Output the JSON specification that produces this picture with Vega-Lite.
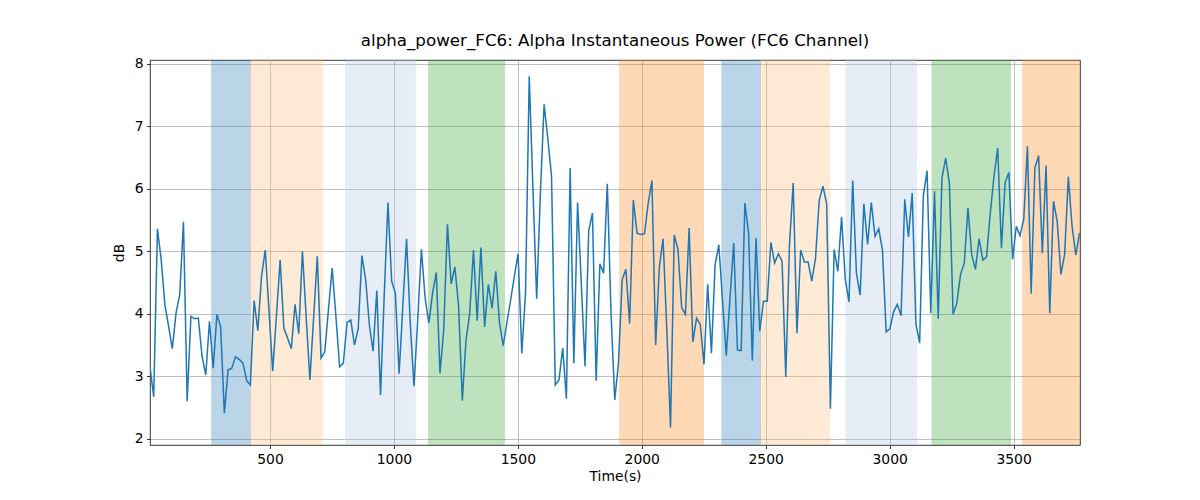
{
  "$schema": "https://vega.github.io/schema/vega-lite/v6.json",
  "description": "Alpha instantaneous power on the FC6 channel with shaded phases.",
  "width": 930,
  "height": 385,
  "autosize": "none",
  "padding": {"left": 150, "top": 60, "right": 120, "bottom": 55},
  "title": {
    "text": "alpha_power_FC6: Alpha Instantaneous Power (FC6 Channel)",
    "font": "DejaVu Sans",
    "fontSize": 16.7,
    "fontWeight": "normal",
    "color": "black",
    "offset": 7
  },
  "datasets": {
    "bands": [
      {"start": 265, "end": 421, "phase": "A"},
      {"start": 421, "end": 712, "phase": "B"},
      {"start": 805, "end": 1087, "phase": "C"},
      {"start": 1140, "end": 1446, "phase": "D"},
      {"start": 1911, "end": 2249, "phase": "E"},
      {"start": 2323, "end": 2479, "phase": "A"},
      {"start": 2479, "end": 2757, "phase": "B"},
      {"start": 2824, "end": 3108, "phase": "C"},
      {"start": 3171, "end": 3488, "phase": "D"},
      {"start": 3537, "end": 3800, "phase": "E"}
    ],
    "power": [
      {"t": 16, "v": 3.15}, {"t": 31, "v": 2.67}, {"t": 46, "v": 5.36}, {"t": 61, "v": 4.87}, {"t": 76, "v": 4.15},
      {"t": 91, "v": 3.80}, {"t": 106, "v": 3.44}, {"t": 121, "v": 4.01}, {"t": 136, "v": 4.31}, {"t": 151, "v": 5.47},
      {"t": 166, "v": 2.60}, {"t": 181, "v": 3.96}, {"t": 196, "v": 3.92}, {"t": 211, "v": 3.93}, {"t": 226, "v": 3.32},
      {"t": 241, "v": 3.02}, {"t": 256, "v": 3.88}, {"t": 271, "v": 3.13}, {"t": 286, "v": 3.99}, {"t": 301, "v": 3.79},
      {"t": 316, "v": 2.41}, {"t": 331, "v": 3.10}, {"t": 346, "v": 3.13}, {"t": 361, "v": 3.31}, {"t": 376, "v": 3.27},
      {"t": 391, "v": 3.21}, {"t": 406, "v": 2.93}, {"t": 421, "v": 2.86}, {"t": 436, "v": 4.21}, {"t": 451, "v": 3.73},
      {"t": 466, "v": 4.60}, {"t": 481, "v": 5.02}, {"t": 496, "v": 4.05}, {"t": 511, "v": 3.08}, {"t": 526, "v": 3.96},
      {"t": 541, "v": 4.86}, {"t": 556, "v": 3.77}, {"t": 571, "v": 3.61}, {"t": 586, "v": 3.44}, {"t": 601, "v": 4.15},
      {"t": 616, "v": 3.68}, {"t": 631, "v": 5.00}, {"t": 646, "v": 3.95}, {"t": 661, "v": 2.94}, {"t": 676, "v": 3.93},
      {"t": 691, "v": 4.92}, {"t": 706, "v": 3.29}, {"t": 721, "v": 3.39}, {"t": 736, "v": 4.07}, {"t": 751, "v": 4.73},
      {"t": 766, "v": 3.96}, {"t": 781, "v": 3.15}, {"t": 796, "v": 3.21}, {"t": 811, "v": 3.86}, {"t": 826, "v": 3.90},
      {"t": 841, "v": 3.50}, {"t": 856, "v": 3.76}, {"t": 871, "v": 4.93}, {"t": 886, "v": 4.55}, {"t": 901, "v": 3.82},
      {"t": 916, "v": 3.40}, {"t": 931, "v": 4.37}, {"t": 946, "v": 2.70}, {"t": 961, "v": 4.30}, {"t": 976, "v": 5.78},
      {"t": 991, "v": 4.52}, {"t": 1006, "v": 4.33}, {"t": 1021, "v": 3.04}, {"t": 1036, "v": 4.12}, {"t": 1051, "v": 5.20},
      {"t": 1066, "v": 3.85}, {"t": 1081, "v": 2.84}, {"t": 1096, "v": 3.90}, {"t": 1111, "v": 5.03}, {"t": 1126, "v": 4.25},
      {"t": 1141, "v": 3.85}, {"t": 1156, "v": 4.33}, {"t": 1171, "v": 4.66}, {"t": 1186, "v": 3.05}, {"t": 1201, "v": 3.74},
      {"t": 1216, "v": 5.43}, {"t": 1231, "v": 4.48}, {"t": 1246, "v": 4.75}, {"t": 1261, "v": 4.12}, {"t": 1276, "v": 2.61},
      {"t": 1291, "v": 3.58}, {"t": 1306, "v": 4.01}, {"t": 1321, "v": 5.02}, {"t": 1336, "v": 3.89}, {"t": 1351, "v": 5.06},
      {"t": 1366, "v": 3.79}, {"t": 1381, "v": 4.47}, {"t": 1396, "v": 4.09}, {"t": 1411, "v": 4.68}, {"t": 1426, "v": 3.85},
      {"t": 1441, "v": 3.49}, {"t": 1456, "v": 3.86}, {"t": 1471, "v": 4.22}, {"t": 1486, "v": 4.60}, {"t": 1501, "v": 4.96},
      {"t": 1516, "v": 3.37}, {"t": 1531, "v": 4.33}, {"t": 1546, "v": 7.80}, {"t": 1561, "v": 6.00}, {"t": 1576, "v": 4.24},
      {"t": 1591, "v": 5.93}, {"t": 1606, "v": 7.35}, {"t": 1621, "v": 6.80}, {"t": 1636, "v": 6.20}, {"t": 1651, "v": 2.86},
      {"t": 1666, "v": 2.94}, {"t": 1681, "v": 3.45}, {"t": 1696, "v": 2.64}, {"t": 1711, "v": 6.33}, {"t": 1726, "v": 3.21},
      {"t": 1741, "v": 5.78}, {"t": 1756, "v": 4.49}, {"t": 1771, "v": 3.16}, {"t": 1786, "v": 5.33}, {"t": 1801, "v": 5.61},
      {"t": 1816, "v": 2.93}, {"t": 1831, "v": 4.80}, {"t": 1846, "v": 4.65}, {"t": 1861, "v": 6.08}, {"t": 1876, "v": 4.00},
      {"t": 1891, "v": 2.62}, {"t": 1906, "v": 3.21}, {"t": 1921, "v": 4.55}, {"t": 1936, "v": 4.71}, {"t": 1951, "v": 3.84},
      {"t": 1966, "v": 5.82}, {"t": 1981, "v": 5.29}, {"t": 1996, "v": 5.27}, {"t": 2011, "v": 5.28}, {"t": 2026, "v": 5.77},
      {"t": 2041, "v": 6.13}, {"t": 2056, "v": 3.50}, {"t": 2071, "v": 4.75}, {"t": 2086, "v": 5.20}, {"t": 2101, "v": 3.75},
      {"t": 2116, "v": 2.18}, {"t": 2131, "v": 5.26}, {"t": 2146, "v": 5.03}, {"t": 2161, "v": 4.10}, {"t": 2176, "v": 3.99},
      {"t": 2191, "v": 5.37}, {"t": 2206, "v": 3.55}, {"t": 2221, "v": 3.93}, {"t": 2236, "v": 3.83}, {"t": 2251, "v": 3.19},
      {"t": 2266, "v": 4.47}, {"t": 2281, "v": 3.37}, {"t": 2296, "v": 4.79}, {"t": 2311, "v": 5.10}, {"t": 2326, "v": 4.20},
      {"t": 2341, "v": 3.33}, {"t": 2356, "v": 4.25}, {"t": 2371, "v": 5.13}, {"t": 2386, "v": 3.42}, {"t": 2401, "v": 3.41},
      {"t": 2416, "v": 5.77}, {"t": 2431, "v": 5.29}, {"t": 2446, "v": 3.25}, {"t": 2461, "v": 5.21}, {"t": 2476, "v": 3.72},
      {"t": 2491, "v": 4.20}, {"t": 2506, "v": 4.20}, {"t": 2521, "v": 5.14}, {"t": 2536, "v": 4.81}, {"t": 2551, "v": 4.96},
      {"t": 2566, "v": 4.84}, {"t": 2581, "v": 2.99}, {"t": 2596, "v": 5.11}, {"t": 2611, "v": 6.09}, {"t": 2626, "v": 3.69},
      {"t": 2641, "v": 5.02}, {"t": 2656, "v": 4.83}, {"t": 2671, "v": 4.83}, {"t": 2686, "v": 4.52}, {"t": 2701, "v": 4.89},
      {"t": 2716, "v": 5.82}, {"t": 2731, "v": 6.04}, {"t": 2746, "v": 5.76}, {"t": 2761, "v": 2.48}, {"t": 2776, "v": 5.03},
      {"t": 2791, "v": 4.68}, {"t": 2806, "v": 5.55}, {"t": 2821, "v": 4.55}, {"t": 2836, "v": 4.19}, {"t": 2851, "v": 6.13},
      {"t": 2866, "v": 4.65}, {"t": 2881, "v": 4.30}, {"t": 2896, "v": 5.76}, {"t": 2911, "v": 5.11}, {"t": 2926, "v": 5.78},
      {"t": 2941, "v": 5.24}, {"t": 2956, "v": 5.36}, {"t": 2971, "v": 5.02}, {"t": 2986, "v": 3.71}, {"t": 3001, "v": 3.76},
      {"t": 3016, "v": 4.03}, {"t": 3031, "v": 4.15}, {"t": 3046, "v": 3.97}, {"t": 3061, "v": 5.83}, {"t": 3076, "v": 5.23},
      {"t": 3091, "v": 5.93}, {"t": 3106, "v": 3.84}, {"t": 3121, "v": 3.53}, {"t": 3136, "v": 5.89}, {"t": 3151, "v": 6.29},
      {"t": 3166, "v": 4.01}, {"t": 3181, "v": 5.96}, {"t": 3196, "v": 3.92}, {"t": 3211, "v": 6.17}, {"t": 3226, "v": 6.49},
      {"t": 3241, "v": 6.09}, {"t": 3256, "v": 3.99}, {"t": 3271, "v": 4.17}, {"t": 3286, "v": 4.63}, {"t": 3301, "v": 4.81},
      {"t": 3316, "v": 5.69}, {"t": 3331, "v": 4.95}, {"t": 3346, "v": 4.71}, {"t": 3361, "v": 5.20}, {"t": 3376, "v": 4.86},
      {"t": 3391, "v": 4.91}, {"t": 3406, "v": 5.61}, {"t": 3421, "v": 6.20}, {"t": 3436, "v": 6.65}, {"t": 3451, "v": 5.05},
      {"t": 3466, "v": 6.10}, {"t": 3481, "v": 6.26}, {"t": 3496, "v": 4.87}, {"t": 3511, "v": 5.40}, {"t": 3526, "v": 5.25},
      {"t": 3541, "v": 5.51}, {"t": 3556, "v": 6.68}, {"t": 3571, "v": 4.32}, {"t": 3586, "v": 6.33}, {"t": 3601, "v": 6.53},
      {"t": 3616, "v": 4.97}, {"t": 3631, "v": 6.37}, {"t": 3646, "v": 4.01}, {"t": 3661, "v": 5.80}, {"t": 3676, "v": 5.48},
      {"t": 3691, "v": 4.63}, {"t": 3706, "v": 4.95}, {"t": 3721, "v": 6.19}, {"t": 3736, "v": 5.40}, {"t": 3751, "v": 4.94},
      {"t": 3766, "v": 5.29}
    ]
  },
  "layer": [
    {
      "data": {"name": "bands"},
      "mark": {"type": "rect", "opacity": 0.3, "strokeWidth": 1, "clip": true},
      "encoding": {
        "x": {"field": "start", "type": "quantitative", "title": "Time(s)"},
        "x2": {"field": "end"},
        "fill": {
          "field": "phase",
          "type": "nominal",
          "scale": {"domain": ["A", "B", "C", "D", "E"], "range": ["#1f77b4", "#ffbb78", "#aec7e8", "#2ca02c", "#ff7f0e"]},
          "legend": null
        },
        "stroke": {
          "field": "phase",
          "type": "nominal",
          "scale": {"domain": ["A", "B", "C", "D", "E"], "range": ["#1f77b4", "#ffbb78", "#aec7e8", "#2ca02c", "#ff7f0e"]},
          "legend": null
        }
      }
    },
    {
      "data": {"name": "power"},
      "mark": {"type": "line", "color": "#1f77b4", "strokeWidth": 1.5, "clip": true},
      "encoding": {
        "x": {
          "field": "t",
          "type": "quantitative",
          "title": "Time(s)",
          "scale": {"domain": [16, 3768], "nice": false, "zero": false},
          "axis": {"values": [500, 1000, 1500, 2000, 2500, 3000, 3500], "format": "d", "titlePadding": 4}
        },
        "y": {
          "field": "v",
          "type": "quantitative",
          "title": "dB",
          "scale": {"domain": [1.9, 8.06], "nice": false, "zero": false},
          "axis": {"values": [2, 3, 4, 5, 6, 7, 8], "format": "d", "titlePadding": 8}
        }
      }
    }
  ],
  "config": {
    "view": {"stroke": "black", "strokeWidth": 0.8},
    "axis": {
      "domain": false,
      "grid": true,
      "gridColor": "#b0b0b0",
      "gridWidth": 0.8,
      "ticks": true,
      "tickColor": "black",
      "tickSize": 3.5,
      "tickWidth": 0.8,
      "labelPadding": 3.5,
      "labelFont": "DejaVu Sans",
      "labelFontSize": 13.9,
      "labelColor": "black",
      "titleFont": "DejaVu Sans",
      "titleFontSize": 13.9,
      "titleFontWeight": "normal",
      "titleColor": "black"
    }
  }
}
